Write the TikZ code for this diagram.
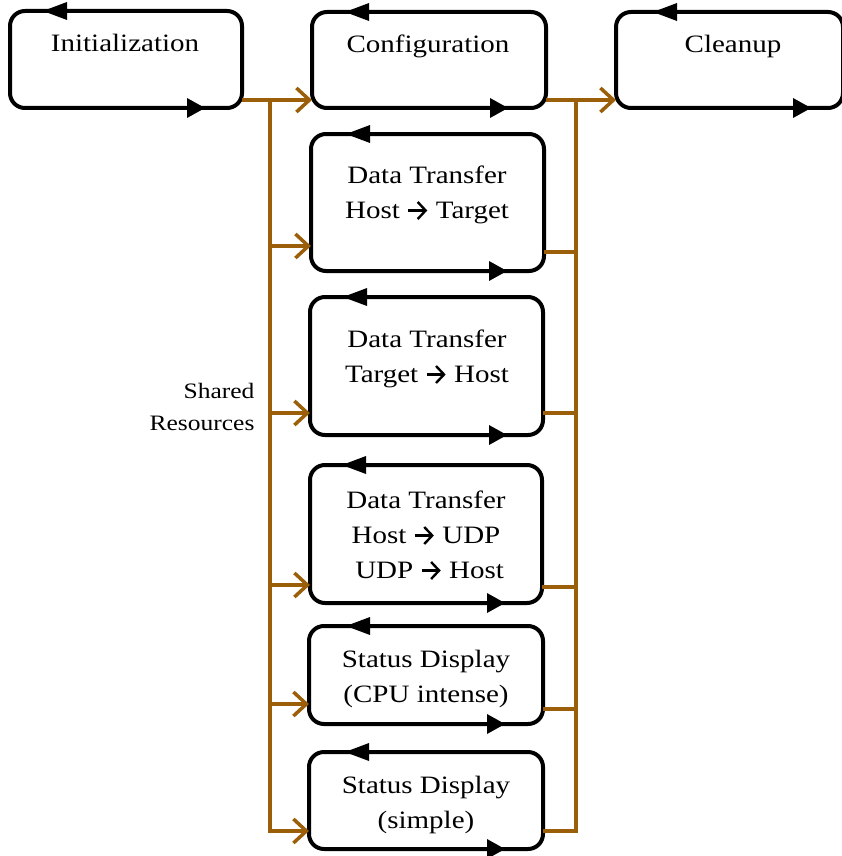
\documentclass[tikz,border=0pt]{standalone}
\usepackage{fontspec}
\setmainfont{Liberation Serif}[FakeStretch=1.16]
\usetikzlibrary{arrows.meta,calc}
\definecolor{busorange}{RGB}{155,95,10}
% small drawn arrow used inside the labels
\newcommand\ra{\tikz[baseline=0pt]{\path (0pt,0pt) rectangle (19pt,1pt);
  \draw[line width=2.4pt, -{Straight Barb[length=8pt,width=17pt,line width=2.4pt]}]
  (0pt,7.5pt) -- (19pt,7.5pt);}}
% the two filled triangles that run round each stage box
\newcommand\looparrows[3]{%
  \fill ($(#1.north west)+(#2,0)$) -- ++(24,-9) -- ++(0,18) -- cycle;
  \fill ($(#1.south east)+(-#3,0)$) -- ++(-18,-10) -- ++(0,20) -- cycle;}
\tikzset{
  stage/.style={draw, line width=4pt, rounded corners=15pt, outer sep=0pt,
    inner sep=0pt},
  stagetext/.style={anchor=base, align=center,
    font=\fontsize{25}{35}\selectfont},
  bus/.style={draw=busorange, line width=3.5pt},
  busarrow/.style={bus, -{Straight Barb[length=13pt,width=24pt]}},
}
\begin{document}
\begin{tikzpicture}[x=1pt,y=-1pt]
\useasboundingbox (0,0) rectangle (841,856);

% stage boxes
\node[stage, minimum width=232pt, minimum height=97pt] (init) at (126,59.5) {};
\node[stage, minimum width=234pt, minimum height=96pt] (config) at (429,60) {};
\node[stage, minimum width=227pt, minimum height=96pt] (cleanup) at (729.5,60) {};
\node[stage, minimum width=233pt, minimum height=137pt] (dt1) at (427.5,202.5) {};
\node[stage, minimum width=233pt, minimum height=138pt] (dt2) at (426.5,366) {};
\node[stage, minimum width=232pt, minimum height=138pt] (dt3) at (426,534) {};
\node[stage, minimum width=234pt, minimum height=98pt] (sd1) at (426,675) {};
\node[stage, minimum width=234pt, minimum height=97pt] (sd2) at (426,800.5) {};

\looparrows{init}{33}{37}
\looparrows{config}{33}{38}
\looparrows{cleanup}{37}{32}
\looparrows{dt1}{35}{37}
\looparrows{dt2}{33}{36}
\looparrows{dt3}{32}{37}
\looparrows{sd1}{37}{38}
\looparrows{sd2}{36}{38}

% labels (anchor=base sits on the last line)
\node[stagetext] (tinit) at (125,52) {Initialization};
\node[stagetext] (tconfig) at (428,53) {Configuration};
\node[stagetext] (tcleanup) at (733,53) {Cleanup};
\node[stagetext] (tdt1) at (427,218) {Data Transfer\\Host \ra{} Target};
\node[stagetext] (tdt2) at (427,382) {Data Transfer\\Target \ra{} Host};
\node[stagetext] (tdt3) at (426,578) {Data Transfer\\Host \ra{} UDP\\\ UDP \ra{} Host};
\node[stagetext] (tsd1) at (426,702) {Status Display\\(CPU intense)};
\node[stagetext] (tsd2) at (426,828) {Status Display\\(simple)};
\node[anchor=base east, align=right, font=\fontsize{22}{32}\selectfont]
  (shared) at (258,430) {Shared\\Resources};

% shared resource buses
\coordinate (ltop) at (270,100);
\coordinate (lbot) at (270,831);
\coordinate (rtop) at (576,100);
\coordinate (rbot) at (576,831);

\draw[busarrow] ([yshift=8pt]init.south east) -- ([yshift=8pt]config.south west);
\draw[busarrow] ([yshift=8pt]config.south east) -- ([yshift=8pt]cleanup.south west);

\draw[busarrow] (ltop) -- (lbot) -- (lbot -| sd2.west);
\draw[bus] (sd2.east |- rbot) -- (rbot) -- (rtop);

\coordinate (l1) at (270,246);
\coordinate (l2) at (270,413);
\coordinate (l3) at (270,585);
\coordinate (l4) at (270,704);
\draw[busarrow] (l1) -- (l1 -| dt1.west);
\draw[busarrow] (l2) -- (l2 -| dt2.west);
\draw[busarrow] (l3) -- (l3 -| dt3.west);
\draw[busarrow] (l4) -- (l4 -| sd1.west);

\coordinate (r1) at (576,252);
\coordinate (r2) at (576,413);
\coordinate (r3) at (576,587);
\coordinate (r4) at (576,709);
\draw[bus] (dt1.east |- r1) -- (r1);
\draw[bus] (dt2.east |- r2) -- (r2);
\draw[bus] (dt3.east |- r3) -- (r3);
\draw[bus] (sd1.east |- r4) -- (r4);
\end{tikzpicture}
\end{document}
